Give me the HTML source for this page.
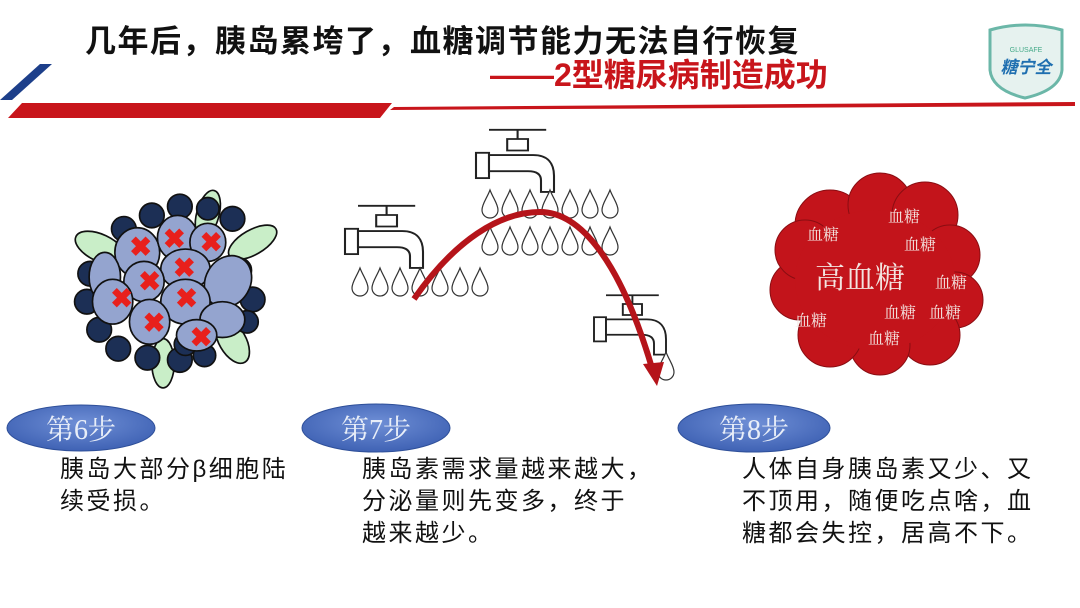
<!DOCTYPE html>
<html><head><meta charset="utf-8"><style>
html,body{margin:0;padding:0;background:#fff;}
#c{position:relative;width:1080px;height:608px;overflow:hidden;background:#fff;font-family:"Liberation Sans","Noto Sans CJK SC",sans-serif;}
.t{position:absolute;white-space:nowrap;}
.body{font-family:"Liberation Sans","Noto Sans CJK SC",sans-serif;font-size:24px;color:#111;line-height:32px;letter-spacing:2.5px;}
</style></head><body><div id="c">
<svg width="1080" height="608" style="position:absolute;left:0;top:0">
<defs>
<radialGradient id="eg" cx="50%" cy="40%" r="60%"><stop offset="0" stop-color="#6f8fd6"/><stop offset="1" stop-color="#3f62b4"/></radialGradient>
<g id="drop"><path d="M0,-16 C3,-8 8,-2 8,4 A8,8 0 0 1 -8,4 C-8,-2 -3,-8 0,-16Z" fill="#fff" stroke="#333" stroke-width="1.2"/></g>
<g id="tap" fill="#fff" stroke="#222" stroke-width="1.6">
<path d="M10,-28 h44 M32,-28 v8 M24,-20 h16 v10 h-16z"/>
<rect x="0" y="-8" width="10" height="22"/>
<path d="M10,-6 h34 c12,0 16,8 16,18 v14 h-10 v-10 c0,-6 -4,-8 -10,-8 h-30z"/>
</g>
</defs>
<polygon points="0,100 12,100 52,64 40,64" fill="#1d3f8a"/>
<polygon points="8,118 380,118 392,103 22,103" fill="#c8151b"/>
<polygon points="394,107 1075,102 1075,106 390,110" fill="#c8151b"/>
<path d="M990,30 Q1025,20 1062,30 L1062,70 Q1060,90 1025,98 Q992,90 990,70Z" fill="#e6f2ef" stroke="#6bb7a8" stroke-width="3"/>
<text x="1026" y="52" font-size="7" fill="#4a8" text-anchor="middle" font-family="Liberation Sans">GLUSAFE</text>
<text x="1026" y="73" font-size="17" font-weight="bold" font-style="italic" fill="#1f6fb0" text-anchor="middle" font-family="Liberation Sans,Noto Sans CJK SC,sans-serif">糖宁全</text>
<!-- islet -->
<g transform="translate(172,286) scale(1.12) translate(-168,-286)">
<g stroke="#111" stroke-width="1.5">
<ellipse cx="104" cy="252" rx="24" ry="12" fill="#c9eec8" transform="rotate(25 104 252)"/>
<ellipse cx="200" cy="222" rx="10" ry="22" fill="#c9eec8" transform="rotate(15 200 222)"/>
<ellipse cx="240" cy="247" rx="24" ry="11" fill="#c9eec8" transform="rotate(-30 240 247)"/>
<ellipse cx="222" cy="335" rx="12" ry="22" fill="#c9eec8" transform="rotate(-30 222 335)"/>
<ellipse cx="160" cy="355" rx="10" ry="22" fill="#c9eec8"/>
<g fill="#1c2f55">
<circle cx="125" cy="235" r="11"/><circle cx="150" cy="223" r="11"/><circle cx="175" cy="215" r="11"/><circle cx="200" cy="217" r="10"/><circle cx="222" cy="226" r="11"/>
<circle cx="95" cy="275" r="11"/><circle cx="92" cy="300" r="11"/><circle cx="103" cy="325" r="11"/><circle cx="120" cy="342" r="11"/><circle cx="146" cy="350" r="11"/><circle cx="175" cy="352" r="11"/><circle cx="197" cy="348" r="10"/><circle cx="228" cy="272" r="11"/><circle cx="240" cy="298" r="11"/><circle cx="235" cy="318" r="10"/><circle cx="180" cy="338" r="10"/>
</g>
<g fill="#94a4cf">
<ellipse cx="137" cy="256" rx="20" ry="22"/><ellipse cx="173" cy="243" rx="18" ry="20"/><ellipse cx="200" cy="247" rx="16" ry="17"/>
<ellipse cx="108" cy="278" rx="14" ry="22"/><ellipse cx="180" cy="271" rx="22" ry="18"/><ellipse cx="143" cy="282" rx="18" ry="18"/>
<ellipse cx="218" cy="282" rx="20" ry="24" transform="rotate(30 218 282)"/><ellipse cx="115" cy="300" rx="18" ry="20"/><ellipse cx="180" cy="300" rx="22" ry="20"/>
<ellipse cx="213" cy="316" rx="20" ry="16"/><ellipse cx="148" cy="318" rx="18" ry="20"/><ellipse cx="190" cy="330" rx="18" ry="14"/>
</g>
</g>
<g fill="#e8201c" font-size="24" font-weight="bold" font-family="Liberation Sans" text-anchor="middle">
<text x="140" y="259">✖</text><text x="170" y="252">✖</text><text x="203" y="255">✖</text><text x="179" y="278">✖</text>
<text x="148" y="290">✖</text><text x="123" y="305">✖</text><text x="181" y="305">✖</text><text x="152" y="327">✖</text><text x="194" y="340">✖</text>
</g>
</g>
<!-- taps -->
<use href="#tap" transform="translate(345,238) scale(1.3,1.15)"/>
<use href="#tap" transform="translate(476,162) scale(1.3,1.15)"/>
<use href="#tap" transform="translate(594,326) scale(1.2,1.1)"/>
<g>
<use href="#drop" x="360" y="284"/><use href="#drop" x="380" y="284"/><use href="#drop" x="400" y="284"/><use href="#drop" x="420" y="284"/><use href="#drop" x="440" y="284"/><use href="#drop" x="460" y="284"/><use href="#drop" x="480" y="284"/>
<use href="#drop" x="490" y="206"/><use href="#drop" x="510" y="206"/><use href="#drop" x="530" y="206"/><use href="#drop" x="550" y="206"/><use href="#drop" x="570" y="206"/><use href="#drop" x="590" y="206"/><use href="#drop" x="610" y="206"/>
<use href="#drop" x="490" y="243"/><use href="#drop" x="510" y="243"/><use href="#drop" x="530" y="243"/><use href="#drop" x="550" y="243"/><use href="#drop" x="570" y="243"/><use href="#drop" x="590" y="243"/><use href="#drop" x="610" y="243"/>
<use href="#drop" x="666" y="368"/>
</g>
<!-- red arrow -->
<path d="M414,299 C455,240 500,212 540,212 C580,212 620,260 652,368" fill="none" stroke="#b5141a" stroke-width="6"/>
<polygon points="643,364 664,362 657,386" fill="#b5141a"/>
<!-- cloud -->
<g fill="#c3141b" stroke="#8a0d12" stroke-width="1">
<circle cx="830" cy="225" r="35"/><circle cx="880" cy="205" r="32"/><circle cx="925" cy="215" r="33"/><circle cx="950" cy="255" r="30"/>
<circle cx="955" cy="300" r="28"/><circle cx="930" cy="335" r="30"/><circle cx="880" cy="345" r="30"/><circle cx="830" cy="335" r="32"/>
<circle cx="800" cy="290" r="30"/><circle cx="805" cy="250" r="30"/>
</g>
<g fill="#c3141b"><ellipse cx="875" cy="280" rx="80" ry="70"/></g>
<g fill="#f3e4e0" font-family="Liberation Serif,Noto Serif CJK SC,serif" font-size="16">
<text x="807" y="240">血糖</text><text x="888" y="222">血糖</text><text x="904" y="250">血糖</text><text x="935" y="288">血糖</text>
<text x="884" y="318">血糖</text><text x="929" y="318">血糖</text><text x="795" y="326">血糖</text><text x="868" y="344">血糖</text>
<text x="815" y="288" font-size="30">高血糖</text>
</g>
<ellipse cx="81" cy="428" rx="74" ry="23" fill="url(#eg)" stroke="#2e4f99"/>
<ellipse cx="376" cy="428" rx="74" ry="24" fill="url(#eg)" stroke="#2e4f99"/>
<ellipse cx="754" cy="428" rx="76" ry="24" fill="url(#eg)" stroke="#2e4f99"/>
<g fill="#e8eef8" font-family="Liberation Serif,Noto Serif CJK SC,serif" font-size="28" text-anchor="middle">
<text x="81" y="439">第6步</text><text x="376" y="439">第7步</text><text x="754" y="439">第8步</text>
</g>
</svg>
<div class="t" style="left:85px;top:16px;font-size:31px;font-weight:bold;color:#111;letter-spacing:1.5px">几年后，胰岛累垮了，血糖调节能力无法自行恢复</div>
<div class="t" style="left:490px;top:50px;font-size:32px;font-weight:bold;color:#c8151b">——2型糖尿病制造成功</div>
<div class="t body" style="left:60px;top:454px">胰岛大部分β细胞陆<br>续受损。</div>
<div class="t body" style="left:362px;top:454px">胰岛素需求量越来越大，<br>分泌量则先变多，终于<br>越来越少。</div>
<div class="t body" style="left:742px;top:454px">人体自身胰岛素又少、又<br>不顶用，随便吃点啥，血<br>糖都会失控，居高不下。</div>
</div></body></html>
